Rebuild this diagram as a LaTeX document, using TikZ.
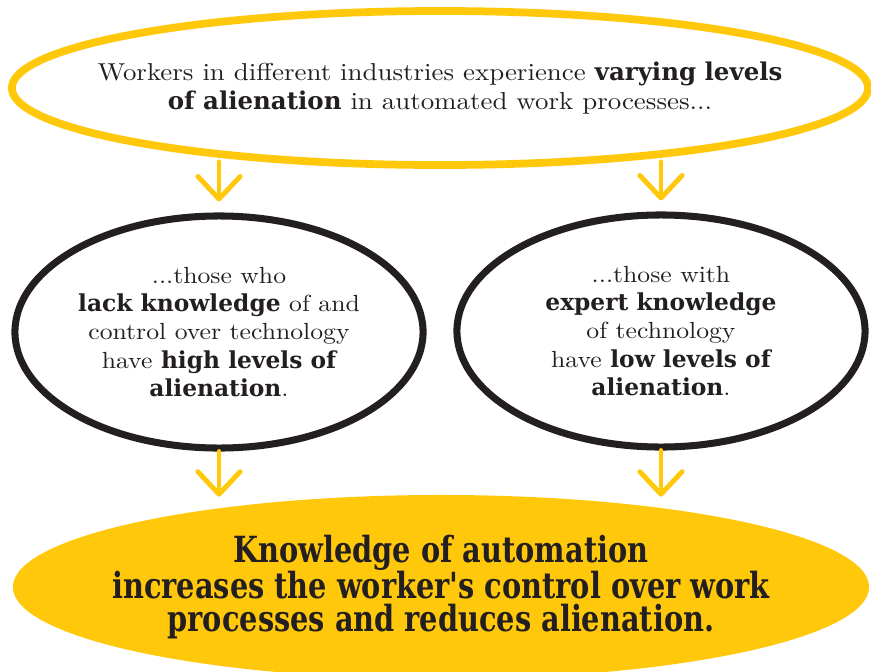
\documentclass[tikz,border=0pt]{standalone}
\usepackage{fontspec}
\usepackage{xcolor}
\usetikzlibrary{positioning}
\usetikzlibrary{arrows.meta}
\usetikzlibrary{shapes.geometric}
\usetikzlibrary{calc}
\setmainfont{lmroman10-regular.otf}[FakeStretch=1.1]
\newfontfamily\slabfont{DejaVu Serif}
\newfontfamily\slabcond{DejaVu Serif}[FakeStretch=0.8]
\definecolor{sunyellow}{RGB}{255,200,10}
\definecolor{inkblack}{RGB}{35,31,32}
\newcommand{\kw}[1]{{\slabfont\bfseries #1}}

\begin{document}
\begin{tikzpicture}[
    x=0.025cm, y=-0.025cm,
    topoval/.style={ellipse, draw=sunyellow, line width=5.5pt, minimum width=21.4cm, minimum height=3.85cm, inner ysep=0pt, inner xsep=-2cm, font=\fontsize{17.4}{20.6}\selectfont, text=inkblack, align=center},
    sideoval/.style={ellipse, draw=inkblack, line width=5pt, minimum width=10.2cm, minimum height=5.8cm, inner ysep=0pt, inner xsep=-0.5cm, font=\fontsize{16.6}{20}\selectfont, text=inkblack, align=center},
    endoval/.style={ellipse, fill=sunyellow, minimum width=21.4cm, minimum height=4.6cm, inner ysep=0pt, inner xsep=-2cm, font=\slabcond\bfseries\fontsize{25.6}{23.4}\selectfont, text=inkblack, align=center},
    flow/.style={draw=sunyellow, line width=3.5pt, line cap=round, -{Straight Barb[length=16pt, width=30pt, round]}}
]
\useasboundingbox (0,0) rectangle (871,672);

% Starting statement
\node[topoval] (intro) at (440,88) {Workers in different industries experience \kw{varying levels}\\
    \kw{of alienation} in automated work processes...};

% Two groups of workers
\node[sideoval] (lackknow) at (219,332) {...those who\\
    \kw{lack knowledge} of and\\
    control over technology\\
    have \kw{high levels of}\\
    \kw{alienation}.};
\node[sideoval] (expknow) at (661,331) {...those with\\
    \kw{expert knowledge}\\
    of technology\\
    have \kw{low levels of}\\
    \kw{alienation}.};

% Conclusion
\node[endoval] (result) at (441,587) {Knowledge of automation\\
    increases the worker's control over work\\
    processes and reduces alienation.};

% Arrows
\draw[flow] ($(intro.south -| lackknow.north)+(0,-7)$) -- ($(lackknow.north)+(0,-11)$);
\draw[flow] ($(intro.south -| expknow.north)+(0,-7)$) -- ($(expknow.north)+(0,-11)$);
\draw[flow] (lackknow.south) -- ($(result.north -| lackknow.south)+(0,2)$);
\draw[flow] (expknow.south) -- ($(result.north -| expknow.south)+(0,2)$);

\end{tikzpicture}
\end{document}
